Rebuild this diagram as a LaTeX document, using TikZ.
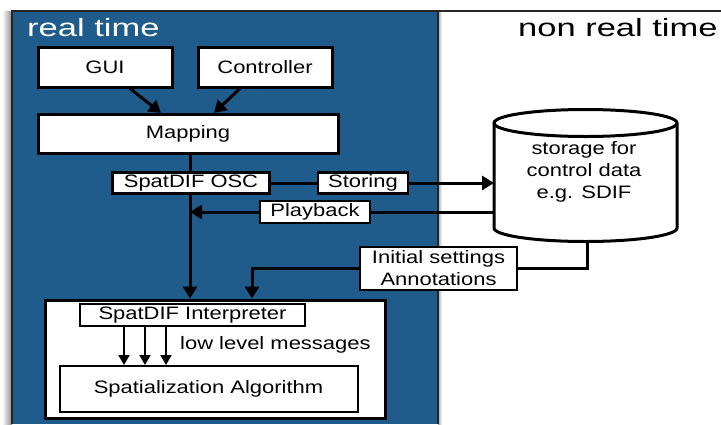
\documentclass[tikz,border=0pt]{standalone}
\usepackage{fontspec}
\setmainfont{Liberation Sans}
\newfontfamily\bodyfont{Liberation Sans}[FakeStretch=1.22]
\newfontfamily\titlefont{Liberation Sans}[FakeStretch=1.38]
\usetikzlibrary{arrows.meta,calc}
\definecolor{rtblue}{RGB}{31,91,139}
\tikzset{
  box/.style={draw=black,fill=white,line width=3pt,inner sep=0pt,
    font=\bodyfont\fontsize{18}{22}\selectfont,align=center},
  tag/.style={box,line width=2.5pt},
  arr/.style={line width=3pt,-{Triangle[length=12pt,width=14pt]}},
  thinarr/.style={line width=2pt,-{Triangle[length=10pt,width=11pt]}},
  wire/.style={line width=3pt},
  title/.style={font=\titlefont\fontsize{25}{30}\selectfont,inner sep=0pt,anchor=base west}
}
\begin{document}
\begin{tikzpicture}[x=1pt,y=-1pt]
\useasboundingbox (0,0) rectangle (721,424);
% background areas
\fill[white] (0,0) rectangle (721,424);
\shade[left color=white,right color=black!45] (2,11) rectangle (12,424);
\shade[left color=black!35,right color=white] (438,11) rectangle (442,424);
\fill[rtblue] (12,11) rectangle (438,424);
\draw[line width=1.5pt,black!85] (12,424) -- (12,11) -- (721,11);
\draw[line width=1.5pt,black!85] (438,11) -- (438,424);
\node[title,text=white] (rt) at (27,36) {real time};
\node[title,text=black] (nrt) at (518,36) {non real time};

% control sources and mapping
\node[box,minimum width=134pt,minimum height=40pt] (gui) at (105,67) {GUI};
\node[box,minimum width=134pt,minimum height=40pt] (ctl) at (265,67) {Controller};
\node[box,minimum width=300pt,minimum height=39pt] (map) at (188,134) {Mapping};

% storage cylinder (y axis points down, so angle 90 is the lower side)
\draw[line width=3pt,fill=white]
  (494,123) -- (494,228) arc[start angle=180,end angle=0,x radius=91.5,y radius=13.5]
  -- (677,123) arc[start angle=0,end angle=-180,x radius=91.5,y radius=13.5] -- cycle;
\draw[line width=3pt] (494,123) arc[start angle=180,end angle=0,x radius=91.5,y radius=13.5];
\node[font=\bodyfont\fontsize{18}{22}\selectfont,align=center,inner sep=0pt] (store) at (584,172)
  {storage for\\control data\\e.g. SDIF};
\coordinate (cylA) at (494,183);
\coordinate (cylB) at (494,212);
\coordinate (cylC) at (587,242);

% interpreter block
\node[box,minimum width=340pt,minimum height=118pt] (outer) at (215,359) {};
\node[box,line width=2pt,minimum width=298pt,minimum height=46pt] (alg) at (208.5,389) {Spatialization Algorithm};
\node[tag,line width=2pt,minimum width=225pt,minimum height=22pt] (interp) at (192.5,315) {SpatDIF Interpreter};
\node[font=\bodyfont\fontsize{18}{22}\selectfont,inner sep=0pt,anchor=west] (low) at (180,345) {low level messages};
\foreach \dx in {124,145,166}
  \draw[thinarr] (\dx,327) -- (\dx,365);

% main flow from mapping to the interpreter
\draw[arr] ($(gui.south)+(25,0)$) -- ($(map.north)+(-27,0)$);
\draw[arr] ($(ctl.south)+(-25,0)$) -- ($(map.north)+(26,0)$);
\draw[arr] (map.south -| 190,0) -- (outer.north -| 190,0);

% labels on the flow
\node[tag,minimum width=157pt,minimum height=21pt] (osc) at (191,183) {SpatDIF OSC};
\node[tag,minimum width=90pt,minimum height=21pt] (storing) at (363,183) {Storing};
\node[tag,minimum width=110pt,minimum height=22pt] (play) at (315,212) {Playback};
\node[tag,minimum width=157pt,minimum height=43pt] (init) at (438.5,268.5) {Initial settings\\Annotations};

% storing and playback
\draw[wire] (osc.east) -- (storing.west);
\draw[arr] (storing.east) -- (cylA);
\draw[wire] (cylB) -- (play.east);
\draw[arr] (play.west) -- (190,212);

% initial settings path
\draw[wire] (cylC) |- (init.east);
\draw[arr] (init.west) -| (outer.north -| 252,0);
\end{tikzpicture}
\end{document}
